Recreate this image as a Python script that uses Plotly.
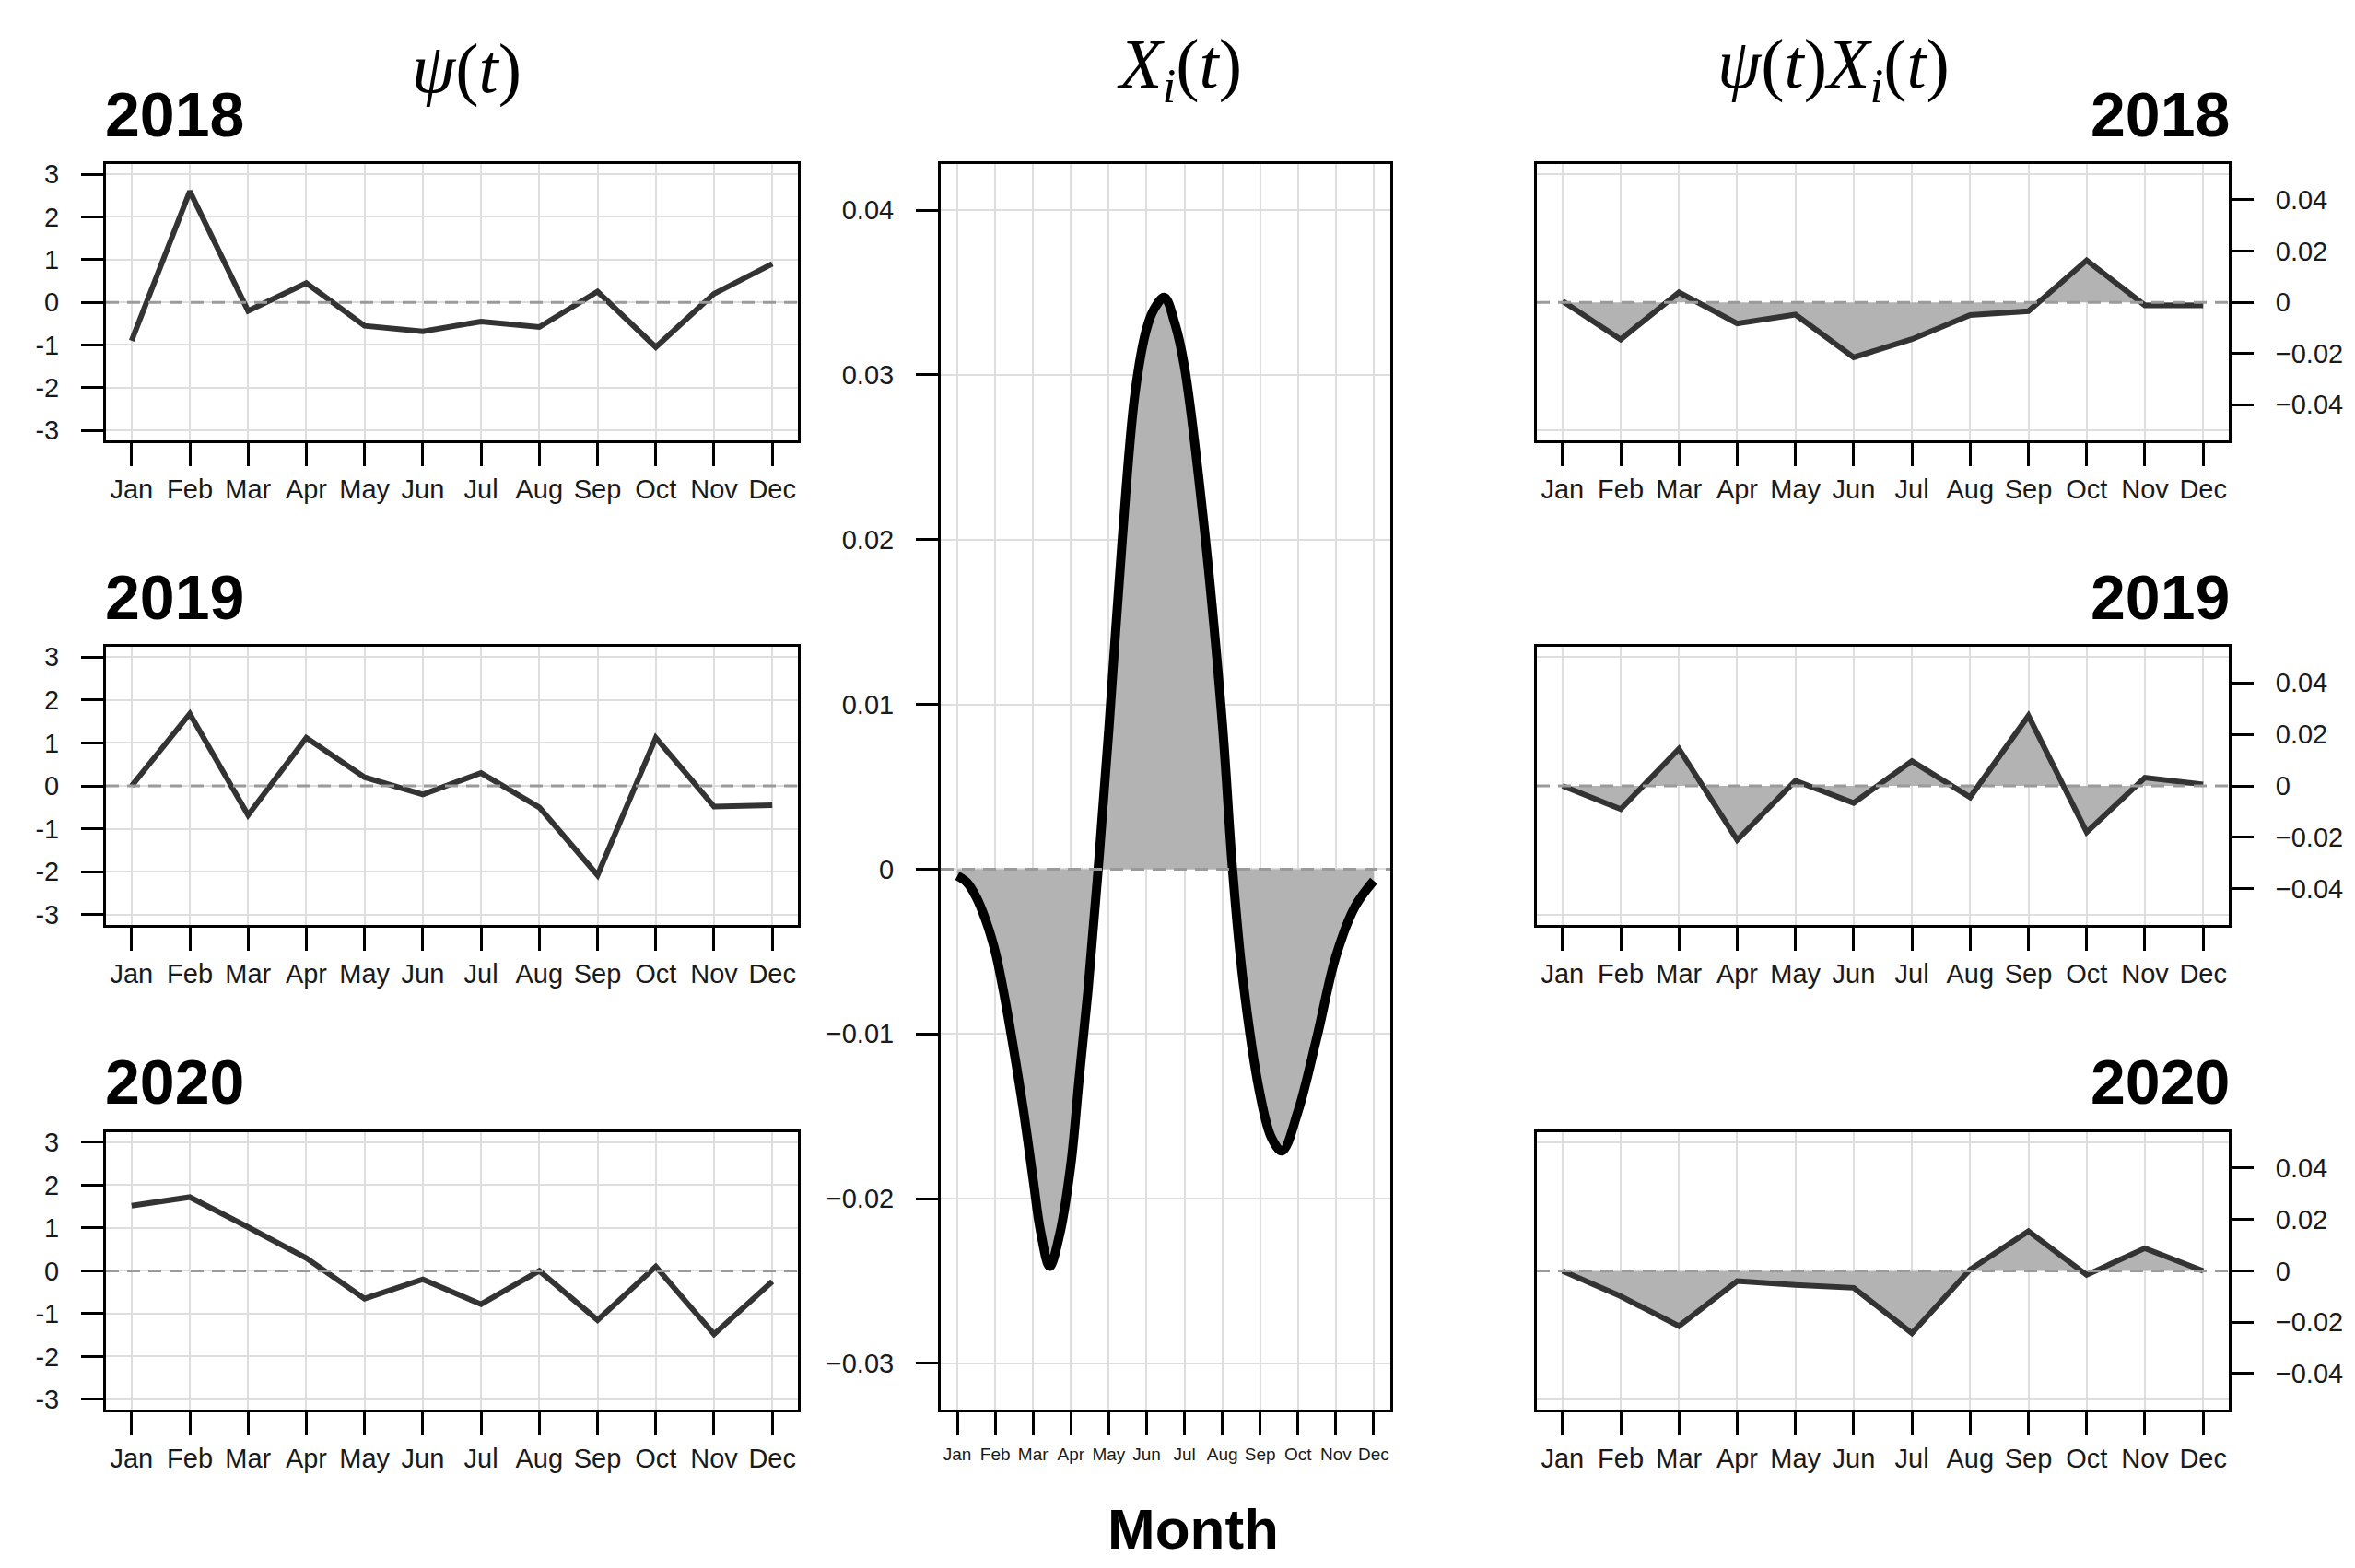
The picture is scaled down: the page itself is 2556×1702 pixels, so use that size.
import plotly.graph_objects as go

# ---------------- data ----------------
months = [1, 2, 3, 4, 5, 6, 7, 8, 9, 10, 11, 12]
month_labels = ["Jan", "Feb", "Mar", "Apr", "May", "Jun",
                "Jul", "Aug", "Sep", "Oct", "Nov", "Dec"]
years = ["2018", "2019", "2020"]

psi_2018 = [-0.90, 2.60, -0.20, 0.45, -0.55, -0.68, -0.45, -0.58, 0.25, -1.05, 0.20, 0.90]
psi_2019 = [0.00, 1.68, -0.68, 1.12, 0.20, -0.20, 0.30, -0.50, -2.08, 1.12, -0.48, -0.45]
psi_2020 = [1.52, 1.72, 1.02, 0.30, -0.65, -0.20, -0.78, 0.00, -1.15, 0.10, -1.48, -0.25]

prod_2018 = [0.0005, -0.0145, 0.0039, -0.0083, -0.0048, -0.0215, -0.0144, -0.0050, -0.0035, 0.0164, -0.0012, -0.0012]
prod_2019 = [0.0000, -0.0090, 0.0144, -0.0210, 0.0020, -0.0066, 0.0096, -0.0044, 0.0272, -0.0180, 0.0032, 0.0006]
prod_2020 = [0.0000, -0.0099, -0.0215, -0.0040, -0.0055, -0.0066, -0.0243, 0.0005, 0.0154, -0.0016, 0.0088, 0.0000]

# X_i(t) curve (month position, value)
xi_t = [1.0, 1.25, 1.5, 1.75, 2.0, 2.25, 2.5, 2.75, 3.0, 3.2, 3.44, 3.7, 4.0, 4.21, 4.45,
        4.72, 5.0, 5.35, 5.7, 6.0, 6.2, 6.47, 6.75, 7.0, 7.5, 8.0, 8.27, 8.55, 9.0, 9.3,
        9.58, 10.0, 10.5, 11.0, 11.5, 12.0]
xi_val = [-0.0004, -0.0008, -0.0017, -0.0031, -0.0050, -0.0078, -0.0111, -0.0147, -0.0188,
          -0.0220, -0.0241, -0.0222, -0.0179, -0.0129, -0.0074, 0.0000, 0.0084, 0.0198,
          0.0290, 0.0328, 0.0340, 0.0347, 0.0331, 0.0305, 0.0212, 0.0089, 0.0000, -0.0068,
          -0.0137, -0.0163, -0.0171, -0.0147, -0.0102, -0.0053, -0.0023, -0.0007]

psi_ticks = [-3, -2, -1, 0, 1, 2, 3]
psi_ticktext = ["-3", "-2", "-1", "0", "1", "2", "3"]
xi_ticks = [-0.03, -0.02, -0.01, 0, 0.01, 0.02, 0.03, 0.04]
xi_ticktext = ["\u22120.03", "\u22120.02", "\u22120.01", "0", "0.01", "0.02", "0.03", "0.04"]
prod_ticks = [-0.04, -0.02, 0, 0.02, 0.04]
prod_ticktext = ["\u22120.04", "\u22120.02", "0", "0.02", "0.04"]
prod_grid = [-0.05, 0.05]

# ---------------- layout geometry ----------------
W, H = 2556, 1702
def xd(a, b):
    return [a / W, b / W]
def yd(top, bottom):
    return [1 - bottom / H, 1 - top / H]

col_left = xd(107, 858)
col_mid = xd(1013, 1501)
col_right = xd(1660, 2411)
rows = [yd(166, 468), yd(693, 997), yd(1223, 1526)]
mid_rows = yd(166, 1526)

XR = [0.56, 12.44]
SANS = "Liberation Sans, Arial, sans-serif"
TICKFONT = dict(family=SANS, size=29, color="#1a1a1a")
GRID = "#dedede"
LINE = "#333333"
FILL = "#b3b3b3"

fig = go.Figure()

def add_line(ax, x, y, color, width, fill=False, spline=False):
    fig.add_trace(go.Scatter(
        x=x, y=y, mode="lines",
        line=dict(color=color, width=width, shape="spline" if spline else "linear",
                  smoothing=1.0 if spline else None),
        fill="tozeroy" if fill else None, fillcolor=FILL,
        xaxis="x" + ("" if ax == 1 else str(ax)),
        yaxis="y" + ("" if ax == 1 else str(ax)),
        showlegend=False, hoverinfo="skip"))

psi_sets = [psi_2018, psi_2019, psi_2020]
prod_sets = [prod_2018, prod_2019, prod_2020]

for i in range(3):
    add_line(1 + i, months, psi_sets[i], LINE, 6)
add_line(4, xi_t, xi_val, "#000000", 10, fill=True, spline=True)
for i in range(3):
    add_line(5 + i, months, prod_sets[i], LINE, 6, fill=True)

layout = dict(
    width=W, height=H,
    margin=dict(l=0, r=0, t=0, b=0),
    paper_bgcolor="white", plot_bgcolor="white",
    showlegend=False,
)

def xaxis(domain, anchor, font=TICKFONT, standoff=0):
    return dict(domain=domain, anchor=anchor, range=XR,
                tickmode="array", tickvals=months, ticktext=month_labels,
                ticks="outside", ticklen=25, tickwidth=3, tickcolor="black",
                showline=True, linecolor="black", linewidth=3, mirror=True,
                showgrid=True, gridcolor=GRID, gridwidth=2, zeroline=False,
                tickfont=font, ticklabelstandoff=standoff, fixedrange=True)

def yaxis(domain, anchor, rng, tv, tt, side="left", grid=True, minor=None, standoff=18):
    d = dict(domain=domain, anchor=anchor, range=rng, side=side,
             tickmode="array", tickvals=tv, ticktext=tt,
             ticks="outside", ticklen=24, tickwidth=3, tickcolor="black",
             showline=True, linecolor="black", linewidth=3, mirror=True,
             showgrid=grid, gridcolor=GRID, gridwidth=2, zeroline=False,
             tickfont=TICKFONT, ticklabelstandoff=standoff, fixedrange=True)
    if minor is not None:
        d["minor"] = dict(tickvals=minor, showgrid=True, gridcolor=GRID, gridwidth=2, ticklen=0)
    return d

# left column
for i in range(3):
    n = 1 + i
    sx = "" if n == 1 else str(n)
    layout["xaxis" + sx] = xaxis(col_left, "y" + sx)
    layout["yaxis" + sx] = yaxis(rows[i], "x" + sx, [-3.24, 3.24], psi_ticks, psi_ticktext)

# middle
layout["xaxis4"] = xaxis(col_mid, "y4", font=dict(family=SANS, size=19, color="#1a1a1a"), standoff=4)
layout["yaxis4"] = yaxis(mid_rows, "x4", [-0.0328, 0.0428], xi_ticks, xi_ticktext)

# right column
for i in range(3):
    n = 5 + i
    sx = str(n)
    layout["xaxis" + sx] = xaxis(col_right, "y" + sx)
    layout["yaxis" + sx] = yaxis(rows[i], "x" + sx, [-0.054, 0.054], prod_ticks, prod_ticktext,
                                 side="right", grid=False, minor=prod_grid)

# dashed zero reference lines
shapes = []
for n in range(1, 8):
    sx = "" if n == 1 else str(n)
    shapes.append(dict(type="line", xref="x" + sx + " domain", yref="y" + sx,
                       x0=0, x1=1, y0=0, y1=0, layer="above",
                       line=dict(color="#9a9a9a", width=3, dash="14px,9px")))
layout["shapes"] = shapes

ann = []
TITLEFONT = dict(family="Liberation Serif, Times New Roman, serif", size=76, color="black")
ann.append(dict(text="<i>ψ</i>(<i>t</i>)", x=499 / W, y=1 - 62 / H, xref="paper", yref="paper",
                showarrow=False, font=TITLEFONT, xanchor="center", yanchor="middle"))
ann.append(dict(text="<i>X</i><sub><i>i</i></sub>(<i>t</i>)", x=1272 / W, y=1 - 62 / H,
                xref="paper", yref="paper", showarrow=False, font=TITLEFONT,
                xanchor="center", yanchor="middle"))
ann.append(dict(text="<i>ψ</i>(<i>t</i>)<i>X</i><sub><i>i</i></sub>(<i>t</i>)", x=1982 / W,
                y=1 - 62 / H, xref="paper", yref="paper", showarrow=False, font=TITLEFONT,
                xanchor="center", yanchor="middle"))
YEARFONT = dict(family=SANS, size=68, color="black")
year_y = [112, 639, 1168]
for i, yr in enumerate(years):
    ann.append(dict(text="<b>" + yr + "</b>", x=104 / W, y=1 - year_y[i] / H, xref="paper",
                    yref="paper", showarrow=False, font=YEARFONT, xanchor="left", yanchor="middle"))
    ann.append(dict(text="<b>" + yr + "</b>", x=2414 / W, y=1 - year_y[i] / H, xref="paper",
                    yref="paper", showarrow=False, font=YEARFONT, xanchor="right", yanchor="middle"))
ann.append(dict(text="<b>Month</b>", x=1287 / W, y=1 - 1656 / H, xref="paper", yref="paper",
                showarrow=False, xanchor="center", yanchor="middle",
                font=dict(family=SANS, size=62, color="black")))
layout["annotations"] = ann

fig.update_layout(**layout)
fig.write_html("out.html")
